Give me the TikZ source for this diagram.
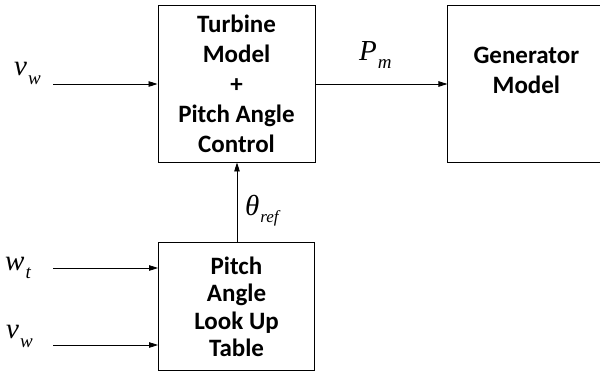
\documentclass[tikz,border=0pt]{standalone}
\usepackage{fontspec}
\setmainfont{Carlito}
\newfontfamily\eqfont{Liberation Serif}
\usetikzlibrary{arrows.meta, positioning}
\newcommand{\SigVar}[3][9pt]{#2\kern1pt\raisebox{-#1}{\fontsize{19}{19}\selectfont #3}}

\begin{document}
\begin{tikzpicture}[
      x = 1pt, y = -1pt,
      >={Triangle[length=9pt, width=5.5pt]},
      blk/.style={
        draw,
        line width = 0.9pt,
        minimum width = 157pt,
        minimum height = 157pt,
        align = center,
        font = \fontsize{25}{30}\selectfont\bfseries,
      },
      sig/.style={
        inner sep = 0pt,
        anchor = base west,
        font = \fontsize{29}{29}\selectfont\eqfont\itshape,
      },
      wire/.style={->, line width = 0.8pt},
    ]
    \useasboundingbox (0,0) rectangle (600,375);
    \begin{scope}
    \clip (0,0) rectangle (600,375);
    \node[blk] (turb) at (236.5,83.5) {Turbine\\Model\\+\\Pitch Angle\\Control};
    \node[blk, right = 132pt of turb] (gen) {};
    \node[font = \fontsize{25}{30}\selectfont\bfseries, align = center]
      (gentxt) at ([yshift=13pt]gen.center) {Generator\\Model};
    \node[blk, minimum width = 156pt, minimum height = 128pt,
      font = \fontsize{25}{27.5}\selectfont\bfseries, below = 80pt of turb]
      (lut) {Pitch\\Angle\\Look Up\\Table};
    \end{scope}
    % inputs
    \coordinate (vin) at (53,84);
    \coordinate (wtin) at (53,268);
    \coordinate (vlin) at (53,345);
    \node[sig] (vwtop) at (14,75) {\SigVar{v}{w}};
    \node[sig] (wt) at (5,270) {\SigVar[8pt]{w}{t}};
    \node[sig] (vwlow) at (6,338) {\SigVar{v}{w}};
    \draw[wire] (vin) -- (vin -| turb.west);
    \draw[wire] (wtin) -- (wtin -| lut.west);
    \draw[wire] (vlin) -- (vlin -| lut.west);
    \draw[wire] (turb.east |- vin) -- (gen.west |- vin);
    \node[sig] (pm) at (359,60) {\SigVar[8pt]{P}{m}};
    \draw[wire] (lut.north -| 237,0) -- (turb.south -| 237,0);
    \node[sig] (theta) at (245,215) {\SigVar[7pt]{θ}{\fontsize{17}{17}\selectfont ref}};
  \end{tikzpicture}
\end{document}
